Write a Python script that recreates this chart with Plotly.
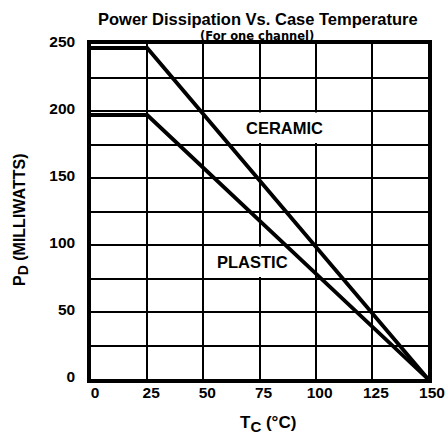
import plotly.graph_objects as go

temps = [0, 25, 150]
ceramic = [247, 247, 0]
plastic = [197, 197, 0]
x_ticks = [0, 25, 50, 75, 100, 125, 150]
y_ticks = [0, 50, 100, 150, 200, 250]

# label text positions and background cell extents (data units)
ceramic_label = dict(x=86, y=187.5, box=(62, 109, 176.2, 198.8))
plastic_label = dict(x=72, y=87.5, box=(52, 96, 76.2, 98.8))

F = "Liberation Sans, Arial, sans-serif"

fig = go.Figure()
fig.add_trace(go.Scatter(x=temps, y=ceramic, mode="lines",
                         line=dict(color="black", width=3.8), showlegend=False))
fig.add_trace(go.Scatter(x=temps, y=plastic, mode="lines",
                         line=dict(color="black", width=3.8), showlegend=False))

fig.update_layout(
    width=448, height=437,
    margin=dict(l=91, r=20, t=44, b=58),
    paper_bgcolor="white", plot_bgcolor="white",
    font=dict(family=F, color="black"),
    xaxis=dict(range=[0, 150], tickvals=x_ticks, ticktext=[f"<b>{v}</b>" for v in x_ticks],
               showgrid=True, gridcolor="black", gridwidth=2,
               showline=True, linecolor="black", linewidth=3.5, mirror=True,
               zeroline=False, ticks="", tickfont=dict(size=15.5, family=F),
               ticklabelstandoff=-3, ticklabelshift=4, automargin=False),
    yaxis=dict(range=[0, 250], tickvals=y_ticks, ticktext=[f"<b>{v}</b>" for v in y_ticks],
               showgrid=True, gridcolor="black", gridwidth=2,
               minor=dict(dtick=25, tick0=0, showgrid=True, gridcolor="black", gridwidth=2, ticks=""),
               showline=True, linecolor="black", linewidth=3.5, mirror=True,
               zeroline=False, ticks="", tickfont=dict(size=15.5, family=F),
               ticklabelstandoff=9, ticklabelshift=-2, automargin=False),
)

for lab in (ceramic_label, plastic_label):
    x0, x1, y0, y1 = lab["box"]
    fig.add_shape(type="rect", x0=x0, x1=x1, y0=y0, y1=y1, layer="between",
                  fillcolor="white", line=dict(width=0))

fig.add_annotation(text="<b>Power Dissipation Vs. Case Temperature</b>",
                   xref="paper", yref="paper", x=0.5, xshift=-2, y=1, yshift=25.5,
                   yanchor="middle", showarrow=False, font=dict(size=16.5, family=F))
fig.add_annotation(text="<b>(For one channel)</b>",
                   xref="paper", yref="paper", x=0.5, xshift=-3, y=1, yshift=8.5,
                   yanchor="middle", showarrow=False,
                   font=dict(size=11.5, family="DejaVu Sans, sans-serif"))
fig.add_annotation(text='<b>T<sub><span style="font-size:15px">C</span></sub> (°C)</b>',
                   xref="paper", yref="paper", x=0.5, xshift=8, y=0, yshift=-45,
                   yanchor="middle", showarrow=False, font=dict(size=17, family=F))
fig.add_annotation(text='<b>P<sub><span style="font-size:14px">D</span></sub> (MILLIWATTS)</b>',
                   xref="paper", yref="paper", x=0, xshift=-70, y=0.5, yshift=-8.5,
                   xanchor="center", yanchor="middle",
                   textangle=-90, showarrow=False, font=dict(size=16, family=F))
fig.add_annotation(text="<b>CERAMIC</b>", x=ceramic_label["x"], y=ceramic_label["y"],
                   showarrow=False, font=dict(size=16.5, family=F))
fig.add_annotation(text="<b>PLASTIC</b>", x=plastic_label["x"], y=plastic_label["y"],
                   showarrow=False, font=dict(size=16.5, family=F))

# remove the browser's default 8px body margin so the 448x437 figure fits the window
fig.write_html("out.html", config={"displayModeBar": False},
               post_script="document.body.style.margin='0px';")
